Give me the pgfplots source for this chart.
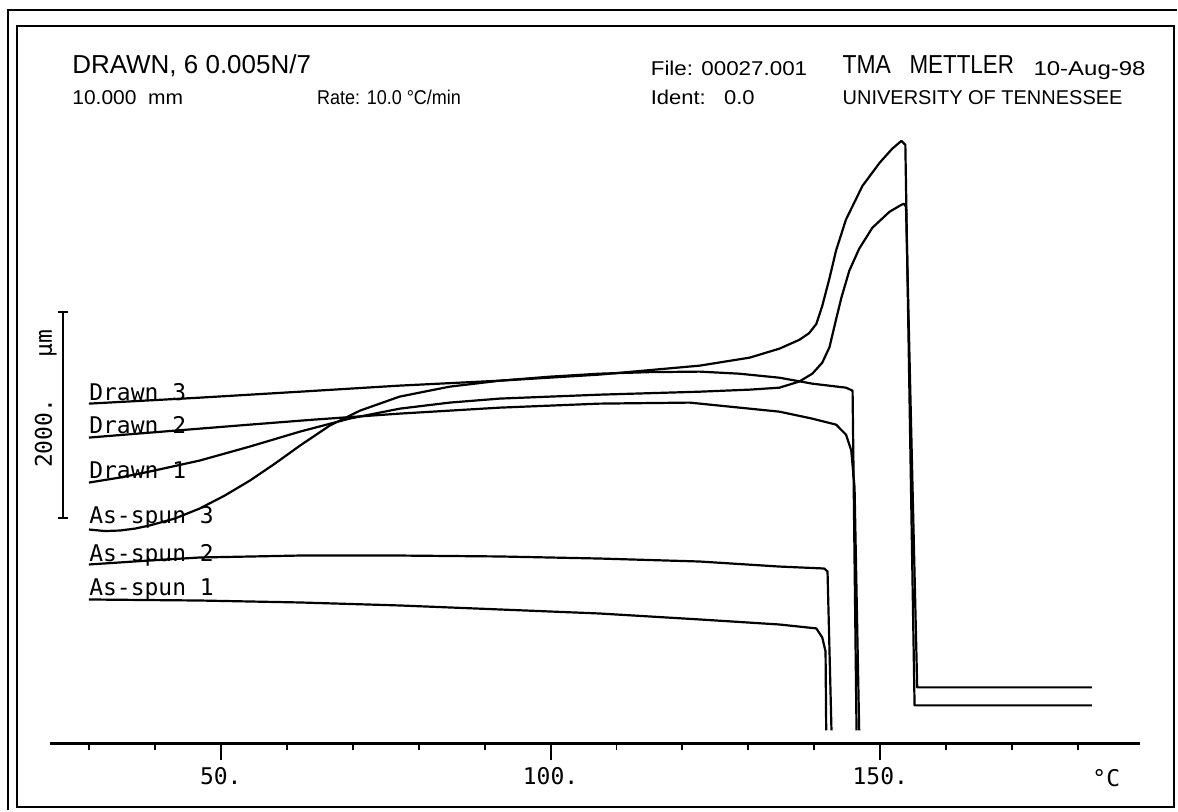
\documentclass[border=0pt]{standalone}
\usepackage{fontspec}
\setmainfont{Liberation Sans}
\newfontfamily\monof{DejaVu Sans Mono}
\usepackage{pgfplots}
\pgfplotsset{compat=1.18}
\newcommand{\lab}{\monof\fontsize{11.5pt}{13pt}\selectfont}
\newcommand{\bigf}{\fontsize{13pt}{15pt}\selectfont}
\newcommand{\smlf}{\fontsize{10pt}{12pt}\selectfont}
\begin{document}
\begin{tikzpicture}
\begin{scope}[x=0.5pt,y=-0.5pt,every node/.style={inner sep=0pt,anchor=base west}]
\path (0,0) rectangle (1178,811);
\draw[line width=1.1pt] (17,26) rectangle (1175,808);
\draw[line width=1pt] (8,811) -- (8,10) -- (1178,10);
\node at (72,74) {\bigf DRAWN, 6 0.005N/7};
\node at (72,105) {\smlf\scalebox{1.05}[1]{10.000\ \ mm}};
\node at (317,105) {\smlf\scalebox{0.9}[1]{Rate: 10.0 °C/min}};
\node at (651,76) {\smlf\scalebox{1.12}[1]{File: 00027.001}};
\node at (843,74) {\bigf\scalebox{0.88}[1]{TMA}};
\node at (910,74) {\bigf\scalebox{0.86}[1]{METTLER}};
\node at (1034,76) {\smlf\scalebox{1.2}[1]{10-Aug-98}};
\node at (651,105) {\smlf\scalebox{1.1}[1]{Ident:\ \ \ 0.0}};
\node at (843,105) {\smlf UNIVERSITY OF TENNESSEE};
\draw[line width=1pt] (58,312) -- (68,312) (63,312) -- (63,518) (58,518) -- (68,518);
\node[rotate=90,anchor=base] at (52,399) {\lab 2000.\ \ \ µm};
\node at (89,401) {\lab Drawn 3};
\node at (89,434) {\lab Drawn 2};
\node at (89,479) {\lab Drawn 1};
\node at (89,524) {\lab As-spun 3};
\node at (89,562) {\lab As-spun 2};
\node at (89,596) {\lab As-spun 1};
\node at (1093,787) {\lab °C};
\end{scope}
\begin{axis}[at={(25pt,-372pt)}, anchor=south west, scale only axis,
  width=545.5pt, height=322pt,
  xmin=24.09, xmax=189.39, ymin=0, ymax=6252,
  axis y line=none, axis x line*=bottom,
  axis line style={line width=1.2pt,-},
  xtick={50,100,150}, xticklabels={50.,100.,150.},
  minor xtick={30,40,60,70,80,90,110,120,130,140,160,170,180},
  tick align=outside, major tick length=8.5pt, minor tick length=3.5pt,
  tick style={line width=1pt,black},
  xticklabel style={font=\lab},
  clip=false, no markers]
% Drawn 3
\addplot[black,line width=1.1pt,line join=round] coordinates {
(30.0,3301) (46.8,3359) (62.0,3417) (77.1,3476) (92.3,3524) (107.4,3583)
(122.6,3670) (130.2,3748) (134.7,3835) (137.7,3920) (139.2,3985) (140.3,4075)
(141.2,4250) (142.3,4520) (143.3,4790) (144.8,5090) (147.3,5417) (149.9,5641)
(151.8,5777) (153.2,5854) (153.8,5816) (155.2,369) (182.1,369)};
% Drawn 1
\addplot[black,line width=1.1pt,line join=round] coordinates {
(30.0,2534) (34.7,2583) (39.2,2641) (46.8,2748) (54.4,2884) (62.0,3029)
(69.5,3155) (77.1,3252) (84.7,3311) (92.3,3350) (107.4,3388) (122.6,3417)
(130.2,3437) (134.7,3456) (137.7,3515) (139.7,3592) (141.2,3699) (142.3,3850)
(143.3,4120) (144.1,4330) (145.3,4592) (146.8,4806) (148.8,5010) (151.4,5165)
(153.2,5233) (153.6,5243) (153.9,5214) (155.6,544) (182.1,544)};
% As-spun 3
\addplot[black,line width=1.1pt,line join=round] coordinates {
(30.0,2078) (32.4,2063) (34.7,2068) (37.0,2087) (39.2,2117) (43.0,2184)
(46.8,2282) (50.6,2408) (54.4,2553) (58.2,2718) (62.0,2893) (66.5,3087)
(71.1,3233) (77.1,3369) (84.7,3466) (92.3,3524) (99.9,3563) (107.4,3592)
(115.0,3607) (122.6,3612) (128.6,3592) (134.7,3553) (139.7,3495) (144.8,3456)
(145.8,3427) (146.4,126)};
% Drawn 2
\addplot[black,line width=1.1pt,line join=round] coordinates {
(30.0,2971) (39.2,3019) (46.8,3058) (54.4,3097) (64.2,3146) (77.1,3204)
(92.3,3262) (107.4,3301) (121.1,3311) (134.7,3223) (139.7,3155) (143.3,3097)
(144.8,3000) (145.6,2845) (146.1,2485) (146.8,126)};
% As-spun 2
\addplot[black,line width=1.1pt,line join=round] coordinates {
(30.0,1738) (39.2,1777) (46.8,1806) (62.0,1825) (77.1,1825) (92.3,1816)
(107.4,1796) (122.6,1767) (134.7,1718) (141.5,1699) (142.0,1670) (142.6,126)};
% As-spun 1
\addplot[black,line width=1.1pt,line join=round] coordinates {
(30.0,1398) (46.8,1388) (62.0,1369) (77.1,1340) (92.3,1301) (107.4,1262)
(122.6,1204) (134.7,1155) (140.3,1117) (141.2,1029) (141.7,893) (141.8,126)};
\end{axis}
\end{tikzpicture}
\end{document}
